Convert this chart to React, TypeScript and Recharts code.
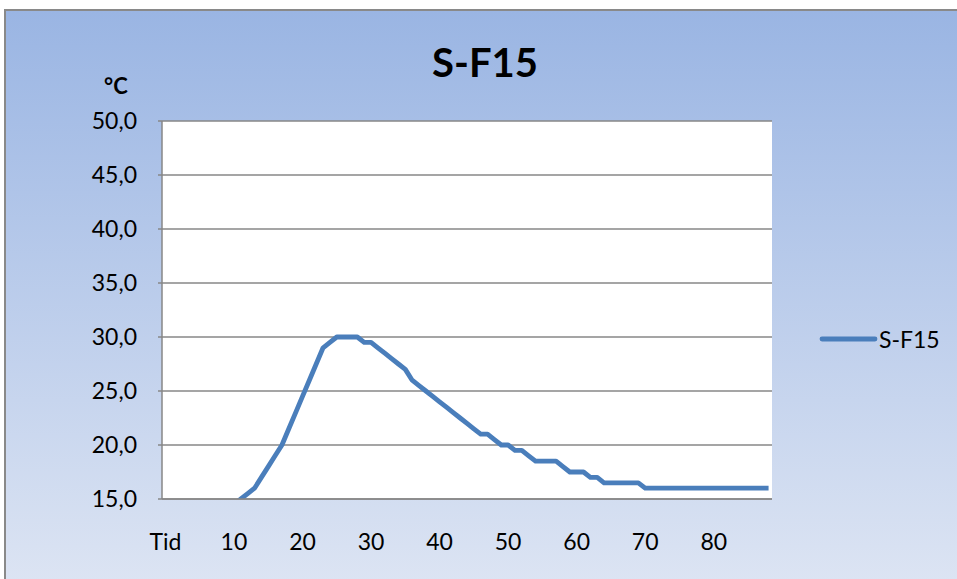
import React from 'react';
import { LineChart, Line, XAxis, YAxis, CartesianGrid, Legend } from 'recharts';

// Temperature readings (°C) per time step; step 0 is the "Tid" header slot.
const seriesName = 'S-F15';
const temperatures: (number | null)[] = [
  null, 14, 14, 14, 14, 14, 14, 14, 14, 14.5,
  14.5, 15, 15.5, 16, 17, 18, 19, 20, 21.5, 23,
  24.5, 26, 27.5, 29, 29.5, 30, 30, 30, 30, 29.5,
  29.5, 29, 28.5, 28, 27.5, 27, 26, 25.5, 25, 24.5,
  24, 23.5, 23, 22.5, 22, 21.5, 21, 21, 20.5, 20,
  20, 19.5, 19.5, 19, 18.5, 18.5, 18.5, 18.5, 18, 17.5,
  17.5, 17.5, 17, 17, 16.5, 16.5, 16.5, 16.5, 16.5, 16.5,
  16, 16, 16, 16, 16, 16, 16, 16, 16, 16,
  16, 16, 16, 16, 16, 16, 16, 16, 16,
];
const xTicks = [0, 10, 20, 30, 40, 50, 60, 70, 80];
const xTickLabels = ['Tid', '10', '20', '30', '40', '50', '60', '70', '80'];
const yTicks = [15, 20, 25, 30, 35, 40, 45, 50];

const data = temperatures.map((temp, step) => ({ step, temp }));

const FONT = 'Lato, "Open Sans", sans-serif';
const LINE_COLOR = '#4A7EBB';
const GRID_COLOR = '#878787';

const formatY = (v: number) => v.toFixed(1).replace('.', ',');
const formatX = (v: number) => {
  const i = xTicks.indexOf(v);
  return i >= 0 ? xTickLabels[i] : String(v);
};

const LegendContent = () => (
  <div style={{ display: 'flex', alignItems: 'center', fontFamily: FONT, fontSize: 23, color: '#000' }}>
    <svg width={60} height={10} style={{ display: 'block' }}>
      <line x1={3} y1={5} x2={56} y2={5} stroke={LINE_COLOR} strokeWidth={4.8} strokeLinecap="round" />
    </svg>
    <span style={{ lineHeight: '26px' }}>{seriesName}</span>
  </div>
);

export default function App() {
  return (
    <div
      style={{
        position: 'fixed',
        left: 0,
        top: 0,
        width: 957,
        height: 579,
        overflow: 'hidden',
        background: '#fff',
      }}
    >
      <div
        style={{
          position: 'absolute',
          left: 4,
          top: 9,
          width: 1000,
          height: 620,
          border: '2px solid #898989',
          background: 'linear-gradient(to bottom, #9AB5E3 0%, #DCE4F3 92%)',
        }}
      />
      <div
        style={{
          position: 'absolute',
          left: 335,
          width: 300,
          top: 38,
          textAlign: 'center',
          fontFamily: FONT,
          fontWeight: 700,
          fontSize: 40,
          lineHeight: '48px',
          color: '#000',
        }}
      >
        {seriesName}
      </div>
      <div
        style={{
          position: 'absolute',
          left: 104,
          top: 73,
          fontFamily: FONT,
          fontWeight: 700,
          fontSize: 22,
          lineHeight: '26px',
          color: '#000',
        }}
      >
        °C
      </div>
      <div style={{ position: 'absolute', left: 0, top: 0 }}>
        <LineChart
          width={957}
          height={579}
          data={data}
          margin={{ top: 121, right: 185, bottom: 40, left: 102 }}
        >
          <CartesianGrid
            horizontal
            vertical={false}
            stroke={GRID_COLOR}
            strokeWidth={1.5}
            fill="#ffffff"
            fillOpacity={1}
          />
          <XAxis
            dataKey="step"
            type="number"
            domain={[-0.5, 88.5]}
            ticks={xTicks}
            tickFormatter={formatX}
            interval={0}
            height={40}
            axisLine={{ stroke: GRID_COLOR, strokeWidth: 1.5 }}
            tickLine={false}
            tickSize={0}
            tickMargin={35}
            tick={{ fill: '#000', fontSize: 23, fontFamily: FONT }}
          />
          <YAxis
            type="number"
            domain={[15, 50]}
            ticks={yTicks}
            allowDataOverflow
            tickFormatter={formatY}
            interval={0}
            width={60}
            axisLine={{ stroke: GRID_COLOR, strokeWidth: 1.5 }}
            tickLine={{ stroke: GRID_COLOR, strokeWidth: 1.5 }}
            tickSize={4}
            tickMargin={21}
            tick={{ fill: '#000', fontSize: 23, fontFamily: FONT }}
          />
          <Legend
            layout="vertical"
            align="center"
            verticalAlign="middle"
            content={<LegendContent />}
            wrapperStyle={{ left: 819, top: 326, width: 130 }}
          />
          <Line
            name={seriesName}
            type="linear"
            dataKey="temp"
            stroke={LINE_COLOR}
            strokeWidth={4.8}
            strokeLinejoin="round"
            dot={false}
            activeDot={false}
            connectNulls={false}
            isAnimationActive={false}
          />
        </LineChart>
      </div>
    </div>
  );
}
